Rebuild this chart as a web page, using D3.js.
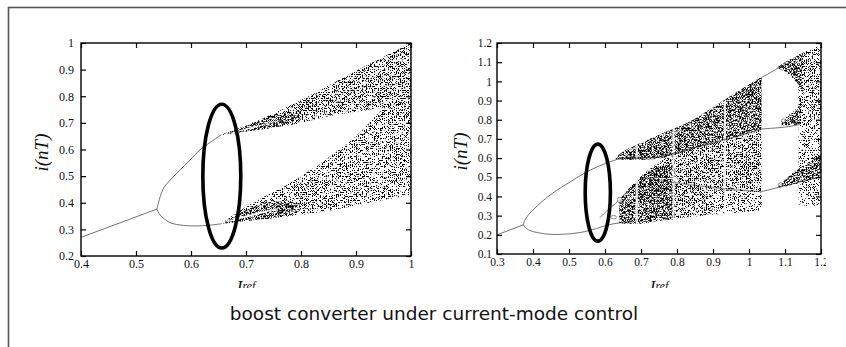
<!DOCTYPE html>
<html>
<head>
<meta charset="utf-8">
<script src="https://cdn.jsdelivr.net/npm/d3@7/dist/d3.min.js"></script>
<style>
  body { margin: 0; background: #fff; }
  svg { display: block; }
</style>
</head>
<body>
<svg id="fig" width="846" height="347"></svg>
<script>
// ---------- left diagram: Iref 0.4 .. 1 ----------
const leftXTicks = [0.4, 0.5, 0.6, 0.7, 0.8, 0.9, 1];
const leftYTicks = [0.2, 0.3, 0.4, 0.5, 0.6, 0.7, 0.8, 0.9, 1];

// [Iref, i(nT)]
const leftPeriod1 = [[0.4, 0.27], [0.538, 0.376]];
const leftUpperBranch = [[0.538, 0.376], [0.539, 0.385], [0.544, 0.423], [0.55, 0.454], [0.562, 0.485],
  [0.58, 0.523], [0.598, 0.56], [0.616, 0.598], [0.635, 0.627], [0.655, 0.655]];
const leftLowerBranch = [[0.538, 0.376], [0.544, 0.354], [0.55, 0.342], [0.562, 0.325], [0.586, 0.315],
  [0.61, 0.313], [0.635, 0.316], [0.655, 0.321]];

// chaotic bands: [Iref, upper edge, lower edge]
const leftBandUpper = [[0.655, 0.655, 0.655], [0.70, 0.69, 0.668], [0.75, 0.735, 0.683], [0.80, 0.785, 0.70],
  [0.85, 0.84, 0.725], [0.90, 0.895, 0.742], [0.95, 0.948, 0.757], [1.0, 1.0, 0.775]];
const leftBandLower = [[0.655, 0.322, 0.320], [0.70, 0.385, 0.332], [0.75, 0.44, 0.343], [0.80, 0.50, 0.355],
  [0.85, 0.57, 0.37], [0.90, 0.65, 0.39], [0.95, 0.755, 0.41], [1.0, 0.84, 0.43]];
const leftUpperCore = [[0.655, 0.655, 0.655], [0.70, 0.688, 0.668], [0.75, 0.726, 0.684], [0.80, 0.745, 0.72]];
const leftLowerCore = [[0.655, 0.322, 0.320], [0.70, 0.372, 0.332], [0.75, 0.405, 0.343], [0.80, 0.40, 0.37]];
// thin white gaps between the two sub-bands
const leftUpperGap = [[0.66, 0.657, 0.656], [0.70, 0.679, 0.674], [0.74, 0.70, 0.697], [0.77, 0.712, 0.712]];
const leftLowerGap = [[0.66, 0.327, 0.325], [0.70, 0.352, 0.345], [0.74, 0.372, 0.366], [0.77, 0.385, 0.385]];
const leftMark = { cx: 0.656, cy: 0.5, rx: 0.0345, ry: 0.27 };

// ---------- right diagram: Iref 0.3 .. 1.2 ----------
const rightXTicks = [0.3, 0.4, 0.5, 0.6, 0.7, 0.8, 0.9, 1, 1.1, 1.2];
const rightYTicks = [0.1, 0.2, 0.3, 0.4, 0.5, 0.6, 0.7, 0.8, 0.9, 1, 1.1, 1.2];

const rightPeriod1 = [[0.3, 0.2], [0.373, 0.252]];
const rightUpperBranch = [[0.373, 0.252], [0.377, 0.275], [0.39, 0.31], [0.42, 0.365], [0.46, 0.425],
  [0.50, 0.472], [0.54, 0.518], [0.58, 0.556], [0.62, 0.585], [0.65, 0.603]];
const rightLowerBranch = [[0.373, 0.252], [0.38, 0.236], [0.392, 0.222], [0.438, 0.204], [0.484, 0.203],
  [0.531, 0.212], [0.577, 0.233], [0.605, 0.25], [0.64, 0.262], [0.68, 0.268]];
const rightInnerBranch = [[0.586, 0.29], [0.605, 0.325], [0.63, 0.365], [0.655, 0.41], [0.68, 0.45]];
const rightTopLine = [[1.035, 1.02], [1.06, 1.046], [1.09, 1.08]];
const rightMidLine = [[1.035, 0.752], [1.08, 0.758], [1.114, 0.765], [1.14, 0.775]];
const rightLowLine = [[1.035, 0.425], [1.09, 0.451], [1.2, 0.503]];
const rightSpineUpper = [[0.64, 0.60], [0.75, 0.607], [0.85, 0.655], [0.95, 0.705], [1.035, 0.752]];
const rightSpineLower = [[0.70, 0.50], [0.80, 0.47], [0.93, 0.44], [1.035, 0.425]];
// small period-doubling loops: [Iref, i(nT), half width, half height]
const rightLoops = [[0.624, 0.292, 0.008, 0.009], [0.641, 0.382, 0.007, 0.014], [1.096, 0.795, 0.006, 0.01], [1.088, 0.462, 0.006, 0.01]];

const rightBandUpper = [[0.63, 0.605, 0.595], [0.66, 0.645, 0.59], [0.70, 0.68, 0.59], [0.76, 0.73, 0.60],
  [0.83, 0.785, 0.64], [0.92, 0.89, 0.69], [1.035, 1.025, 0.755]];
const rightBandLower = [[0.64, 0.38, 0.262], [0.688, 0.486, 0.257], [0.733, 0.555, 0.268], [0.76, 0.59, 0.278],
  [0.83, 0.64, 0.292], [0.92, 0.69, 0.31], [1.035, 0.755, 0.33]];
const rightLowerLight = [[0.90, 0.43, 0.305], [0.96, 0.43, 0.315], [1.035, 0.42, 0.33]];
const rightLowerCore = [[0.64, 0.38, 0.262], [0.688, 0.48, 0.257], [0.733, 0.54, 0.268], [0.79, 0.58, 0.28]];
const rightBubbleCap = [[1.08, 1.075, 1.07], [1.10, 1.10, 1.05], [1.12, 1.12, 1.02], [1.15, 1.148, 0.95]];
const rightEdgeBand = [[1.138, 1.138, 0.36], [1.17, 1.165, 0.35], [1.2, 1.19, 0.36]];
const rightEdgeCore = [[1.138, 1.138, 0.78], [1.17, 1.165, 0.76], [1.2, 1.19, 0.74]];
const rightMidWedge = [[1.09, 0.79, 0.77], [1.12, 0.84, 0.772], [1.145, 0.88, 0.778]];
const rightLowWedge = [[1.08, 0.448, 0.445], [1.12, 0.52, 0.46], [1.16, 0.57, 0.48], [1.2, 0.62, 0.50]];
// periodic windows: [Iref, bottom, top]
const rightWindows = [[0.688, 0.26, 0.67], [0.79, 0.28, 0.79], [0.933, 0.31, 0.90]];
const rightMark = { cx: 0.58, cy: 0.42, rx: 0.035, ry: 0.253 };

const caption = 'boost converter under current-mode control';

// ---------- drawing ----------
const svg = d3.select('#fig');
const defs = svg.append('defs');

// stipple textures for the scattered iterates
const tones = { dark: 0.47, dense: 0.495, mid: 0.515, light: 0.55, sparse: 0.59 };
Object.entries(tones).forEach(([name, cut]) => {
  const f = defs.append('filter').attr('id', 'stipple-' + name)
    .attr('color-interpolation-filters', 'sRGB');
  f.append('feTurbulence').attr('type', 'fractalNoise').attr('baseFrequency', 1.5)
    .attr('numOctaves', 2).attr('seed', 7).attr('result', 'noise');
  const k = 18;
  f.append('feColorMatrix').attr('in', 'noise').attr('type', 'matrix')
    .attr('values', `0 0 0 0 0  0 0 0 0 0  0 0 0 0 0  ${-k} 0 0 0 ${k * (1 - cut)}`)
    .attr('result', 'dots');
  f.append('feComposite').attr('in', 'dots').attr('in2', 'SourceAlpha').attr('operator', 'in');
});

const fmt = d => String(+d.toFixed(1));
const serif = '"Liberation Serif", "Times New Roman", serif';

function panel(cfg) {
  defs.append('clipPath').attr('id', cfg.id + '-clip').append('rect')
    .attr('x', cfg.clip[0]).attr('y', cfg.clip[1]).attr('width', cfg.clip[2]).attr('height', cfg.clip[3]);
  const g = svg.append('g').attr('clip-path', `url(#${cfg.id}-clip)`);

  const x = d3.scaleLinear().domain(cfg.xDomain).range([cfg.left, cfg.right]);
  const y = d3.scaleLinear().domain(cfg.yDomain).range([cfg.bottom, cfg.top]);

  const area = d3.area().x(d => x(d[0])).y0(d => y(d[2])).y1(d => y(d[1])).curve(d3.curveMonotoneX);
  const line = d3.line().x(d => x(d[0])).y(d => y(d[1])).curve(d3.curveCatmullRom.alpha(0.5));

  const marks = g.append('g');
  cfg.bands.forEach(b => {
    marks.append('path').attr('d', area(b.pts)).attr('fill', b.clear ? '#fff' : '#000')
      .attr('filter', b.clear ? null : `url(#stipple-${b.tone})`);
  });
  (cfg.gaps || []).forEach(p => {
    marks.append('path').attr('d', area(p)).attr('fill', '#fff');
  });
  marks.selectAll('rect.window').data(cfg.windows || []).join('rect')
    .attr('class', 'window')
    .attr('x', d => x(d[0]) - 1).attr('width', 2.2)
    .attr('y', d => y(d[2])).attr('height', d => y(d[1]) - y(d[2]))
    .attr('fill', '#fff').attr('opacity', 0.85);
  cfg.lines.forEach(l => {
    marks.append('path').attr('d', line(l.pts)).attr('fill', 'none')
      .attr('stroke', '#222').attr('stroke-width', l.w || 0.8).attr('opacity', l.o || 0.8);
  });
  marks.selectAll('ellipse.loop').data(cfg.loops || []).join('ellipse')
    .attr('class', 'loop')
    .attr('cx', d => x(d[0])).attr('cy', d => y(d[1]))
    .attr('rx', d => x(d[0] + d[2]) - x(d[0])).attr('ry', d => y(d[1]) - y(d[1] + d[3]))
    .attr('fill', '#fff').attr('stroke', '#222').attr('stroke-width', 0.7).attr('opacity', 0.7);

  // axes, ticks inward on all four sides
  const axes = g.append('g');
  const bottom = axes.append('g').attr('transform', `translate(0,${cfg.bottom})`)
    .call(d3.axisBottom(x).tickValues(cfg.xTicks).tickSizeInner(-5).tickSizeOuter(0)
      .tickPadding(cfg.xPad).tickFormat(fmt));
  const left = axes.append('g').attr('transform', `translate(${cfg.left},0)`)
    .call(d3.axisLeft(y).tickValues(cfg.yTicks).tickSizeInner(-5).tickSizeOuter(0)
      .tickPadding(cfg.yPad).tickFormat(fmt));
  const top = axes.append('g').attr('transform', `translate(0,${cfg.top})`)
    .call(d3.axisTop(x).tickValues(cfg.xTicks).tickSizeInner(-5).tickSizeOuter(0).tickFormat(''));
  const right = axes.append('g').attr('transform', `translate(${cfg.right},0)`)
    .call(d3.axisRight(y).tickValues(cfg.yTicks).tickSizeInner(-5).tickSizeOuter(0).tickFormat(''));
  [bottom, left, top, right].forEach(a => {
    a.attr('font-family', null).attr('font-size', null);
    a.select('.domain').remove();
    a.selectAll('line').attr('stroke', '#000').attr('stroke-width', 1.2);
    a.selectAll('text').style('font-family', serif).style('font-size', cfg.tickSize + 'px').attr('fill', '#111');
  });
  axes.append('rect').attr('x', cfg.left).attr('y', cfg.top)
    .attr('width', cfg.right - cfg.left).attr('height', cfg.bottom - cfg.top)
    .attr('fill', 'none').attr('stroke', '#000').attr('stroke-width', 1.4);

  // axis titles
  g.append('text').attr('transform', `translate(${cfg.yTitleX},${(cfg.top + cfg.bottom) / 2 + 3}) rotate(-90)`)
    .attr('text-anchor', 'middle').style('font-family', serif).attr('font-style', 'italic')
    .attr('font-size', 19).attr('fill', '#111').text('i(nT)');
  const xt = g.append('text').attr('x', (cfg.left + cfg.right) / 2).attr('y', cfg.xTitleY)
    .attr('text-anchor', 'middle').style('font-family', serif).attr('font-style', 'italic').attr('fill', '#111');
  xt.append('tspan').attr('font-size', 17).text('I');
  xt.append('tspan').attr('font-size', 12).attr('dy', -2.5).text('ref');

  // highlighting ellipse
  g.append('ellipse')
    .attr('cx', x(cfg.mark.cx)).attr('cy', y(cfg.mark.cy))
    .attr('rx', x(cfg.mark.cx + cfg.mark.rx) - x(cfg.mark.cx))
    .attr('ry', y(cfg.mark.cy) - y(cfg.mark.cy + cfg.mark.ry))
    .attr('fill', 'none').attr('stroke', '#000').attr('stroke-width', 3.6);
}

panel({
  id: 'left', clip: [20, 15, 405, 273],
  xDomain: [0.4, 1], yDomain: [0.2, 1],
  left: 81, right: 411, top: 43, bottom: 256,
  xTicks: leftXTicks, yTicks: leftYTicks, xPad: 3, yPad: 7, tickSize: 12,
  yTitleX: 48, xTitleY: 292,
  bands: [
    { pts: leftBandUpper, tone: 'dense' },
    { pts: leftBandLower, tone: 'mid' },
    { pts: leftUpperCore, tone: 'dark' },
    { pts: leftLowerCore, tone: 'dark' }
  ],
  gaps: [leftUpperGap, leftLowerGap],
  lines: [
    { pts: leftPeriod1 }, { pts: leftUpperBranch }, { pts: leftLowerBranch }
  ],
  mark: leftMark
});

panel({
  id: 'right', clip: [430, 15, 396, 273],
  xDomain: [0.3, 1.2], yDomain: [0.1, 1.2],
  left: 497, right: 821, top: 43, bottom: 254,
  xTicks: rightXTicks, yTicks: rightYTicks, xPad: 4, yPad: 5, tickSize: 11.5,
  yTitleX: 467, xTitleY: 292,
  bands: [
    { pts: rightBandLower, tone: 'dense' },
    { pts: rightLowerLight, clear: true },
    { pts: rightLowerLight, tone: 'light' },
    { pts: rightBandUpper, tone: 'dark' },
    { pts: rightLowerCore, tone: 'dark' },
    { pts: rightEdgeBand, tone: 'light' },
    { pts: rightEdgeCore, tone: 'mid' },
    { pts: rightBubbleCap, tone: 'dark' },
    { pts: rightMidWedge, tone: 'dark' },
    { pts: rightLowWedge, tone: 'dark' }
  ],
  windows: rightWindows,
  lines: [
    { pts: rightPeriod1 }, { pts: rightUpperBranch }, { pts: rightLowerBranch }, { pts: rightInnerBranch },
    { pts: rightTopLine }, { pts: rightMidLine }, { pts: rightLowLine },
    { pts: rightSpineUpper, w: 1.6, o: 0.55 }, { pts: rightSpineLower, w: 1.4, o: 0.4 }
  ],
  loops: rightLoops,
  mark: rightMark
});

// outer frame and caption
svg.append('rect').attr('x', 8.5).attr('y', 7.5).attr('width', 900).attr('height', 400)
  .attr('fill', 'none').attr('stroke', '#555').attr('stroke-width', 1.6);
svg.append('text').attr('x', 434).attr('y', 320).attr('text-anchor', 'middle')
  .style('font-family', '"DejaVu Sans", Verdana, sans-serif').attr('font-size', 18.5).attr('fill', '#111')
  .text(caption);
</script>
</body>
</html>
